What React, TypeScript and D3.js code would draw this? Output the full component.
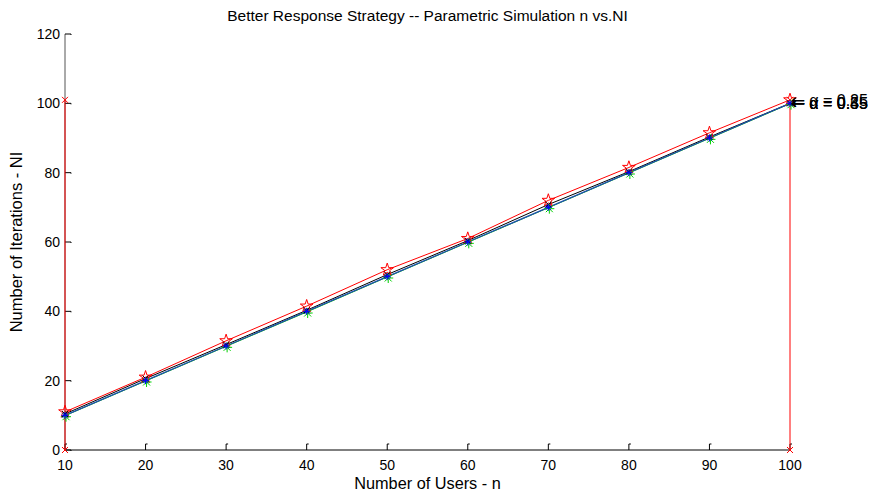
import React from "react";
import * as d3 from "d3";

const users = [10, 20, 30, 40, 50, 60, 70, 80, 90, 100];
const alpha025 = [11, 21, 31.5, 41.5, 52, 61, 72, 81.5, 91.5, 101];
const alpha035 = [10.4, 20.6, 30.4, 40.3, 50.6, 60.4, 70.8, 80.3, 90.3, 100];
const alpha045 = [10, 20, 30, 40, 50, 60, 70, 80, 90, 100];
const alpha055 = [9.9, 19.9, 29.9, 39.8, 49.9, 59.9, 69.9, 79.9, 89.9, 99.9];
const xTicks = [10, 20, 30, 40, 50, 60, 70, 80, 90, 100];
const yTicks = [0, 20, 40, 60, 80, 100, 120];
const labels = ["\u03b1 = 0.35", "\u03b1 = 0.45", "\u03b1 = 0.55", "\u03b1 = 0.25"];
const labelY = [100, 100, 100, 101];
const boundX = [10, 100];
const boundTop = 101;

const W = 875, H = 493;
const L = 65, R = 790, T = 34, B = 450;

export default function App() {
  const x = d3.scaleLinear().domain([10, 100]).range([L, R]);
  const y = d3.scaleLinear().domain([0, 120]).range([B, T]);
  const line = (vals: number[]) =>
    d3.line<number>().x((_, i) => x(users[i])).y((v) => y(v))(vals) || "";
  const font = "'Liberation Sans', Arial, Helvetica, sans-serif";
  const star = d3.symbol().type(d3.symbolStar).size(50)() || "";

  const asterisk = (cx: number, cy: number, color: string, r: number, key: string) => (
    <g key={key} stroke={color} strokeWidth={1}>
      <line x1={cx - r} y1={cy} x2={cx + r} y2={cy} />
      <line x1={cx} y1={cy - r} x2={cx} y2={cy + r} />
      <line x1={cx - r * 0.7} y1={cy - r * 0.7} x2={cx + r * 0.7} y2={cy + r * 0.7} />
      <line x1={cx - r * 0.7} y1={cy + r * 0.7} x2={cx + r * 0.7} y2={cy - r * 0.7} />
    </g>
  );
  const cross = (cx: number, cy: number, color: string, r: number, key: string) => (
    <g key={key} stroke={color} strokeWidth={1}>
      <line x1={cx - r} y1={cy - r} x2={cx + r} y2={cy + r} />
      <line x1={cx - r} y1={cy + r} x2={cx + r} y2={cy - r} />
    </g>
  );

  return (
    <svg width={W} height={H} style={{ position: "absolute", left: 0, top: 0, background: "#fff" }}>
      <rect width={W} height={H} fill="#fff" />
      {/* axes */}
      <line x1={L} y1={B} x2={R} y2={B} stroke="#000" strokeWidth={1} />
      <line x1={L} y1={T} x2={L} y2={B} stroke="#555" strokeWidth={1} />
      {xTicks.map((t) => (
        <g key={"xt" + t}>
          <path d={`M${x(t)},${B} V${B - 6} h2`} fill="none" stroke="#000" strokeWidth={1} />
          <text x={x(t)} y={B + 20} textAnchor="middle" fontFamily={font} fontSize={14} fill="#000">
            {t}
          </text>
        </g>
      ))}
      {yTicks.map((t) => (
        <g key={"yt" + t}>
          <path d={`M${L},${y(t)} H${L + 6} v1`} fill="none" stroke="#000" strokeWidth={1} />
          <text x={L - 5} y={y(t) + 5} textAnchor="end" fontFamily={font} fontSize={14} fill="#000">
            {t}
          </text>
        </g>
      ))}
      {/* bounds */}
      {boundX.map((b) => (
        <g key={"b" + b}>
          <line x1={x(b)} y1={y(0)} x2={x(b)} y2={y(boundTop)} stroke="#f00" strokeWidth={1} />
          {cross(x(b), y(0), "#f00", 3, "bc0" + b)}
          {cross(x(b), y(boundTop), "#f00", 3, "bc1" + b)}
        </g>
      ))}
      {/* series */}
      <path d={line(alpha025)} fill="none" stroke="#f00" strokeWidth={1} />
      <path d={line(alpha055)} fill="none" stroke="#00c000" strokeWidth={1} />
      <path d={line(alpha035)} fill="none" stroke="#000" strokeWidth={1} />
      <path d={line(alpha045)} fill="none" stroke="#1f4fb0" strokeWidth={1.3} />
      {alpha025.map((v, i) => (
        <path key={"r" + i} d={star} transform={`translate(${x(users[i])},${y(v)})`} fill="none" stroke="#f00" strokeWidth={1} />
      ))}
      {alpha055.map((v, i) => asterisk(x(users[i]) + 1, y(v) + 1, "#00d000", 5, "g" + i))}
      {alpha035.map((v, i) => cross(x(users[i]), y(v), "#000", 3, "k" + i))}
      {alpha045.map((v, i) => asterisk(x(users[i]), y(v), "#0000ff", 3.5, "bl" + i))}
      {/* labels */}
      {labels.map((s, i) => (
        <text key={"l" + i} x={x(100) + 1} y={y(labelY[i]) + 6} fontFamily={font} fontSize={16} fill="#000">
          <tspan fontFamily="'DejaVu Sans', sans-serif" fontSize={17}>{"\u2190"}</tspan>
          <tspan dx={4}>{s}</tspan>
        </text>
      ))}
      {/* titles */}
      <text x={(L + R) / 2} y={21} textAnchor="middle" fontFamily={font} fontSize={15.5} fill="#000">
        Better Response Strategy -- Parametric Simulation n vs.NI
      </text>
      <text x={(L + R) / 2} y={489} textAnchor="middle" fontFamily={font} fontSize={16.3} fill="#000">
        Number of Users - n
      </text>
      <text transform={`translate(22,${(T + B) / 2}) rotate(-90)`} textAnchor="middle" fontFamily={font} fontSize={16.5} fill="#000">
        Number of Iterations - NI
      </text>
    </svg>
  );
}
